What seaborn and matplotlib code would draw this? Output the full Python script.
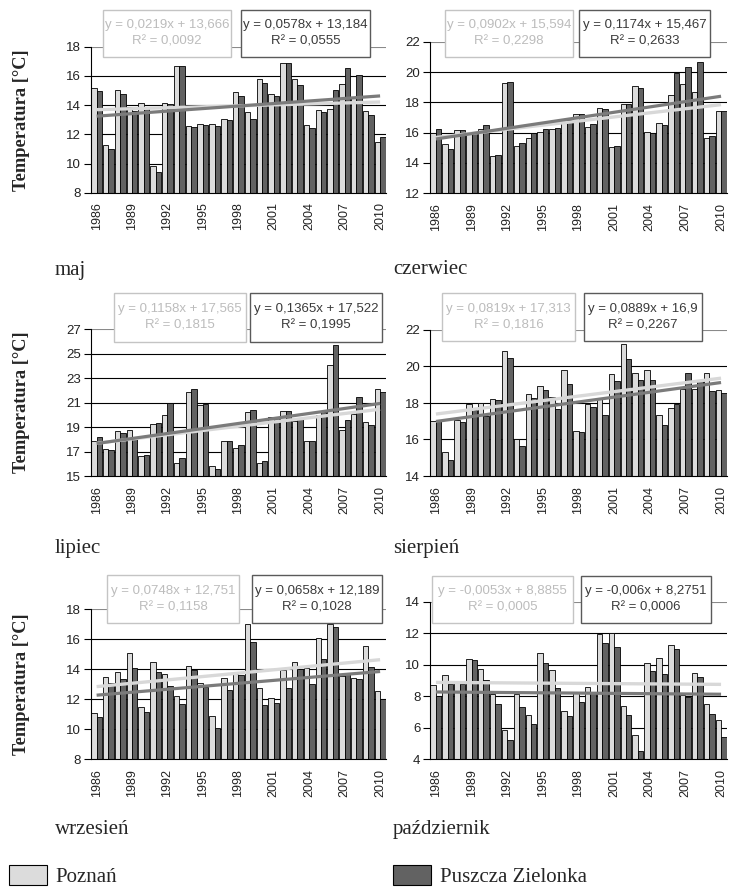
import numpy as np
import pandas as pd
import matplotlib
matplotlib.use('Agg')
import matplotlib.pyplot as plt
import seaborn as sns
from matplotlib.patches import Rectangle, Patch

# Lata pomiarowe
years = list(range(1986, 2011))

# Srednie miesieczne temperatury [°C] - Poznan (poz) i Puszcza Zielonka (pz)
maj_poz = [15.15, 11.25, 15.0, 13.9, 14.15, 9.8, 14.15, 16.7, 12.55, 12.7, 12.7, 13.05, 14.9,
           13.5, 15.8, 14.75, 16.9, 15.8, 12.65, 13.65, 13.75, 15.45, 14.55, 13.6, 11.45]
maj_pz = [14.95, 11.0, 14.75, 13.6, 13.9, 9.45, 14.1, 16.65, 12.5, 12.65, 12.6, 12.95, 14.6,
          13.05, 15.5, 14.6, 16.9, 15.35, 12.4, 13.5, 15.0, 16.55, 16.05, 13.3, 11.8]

cze_poz = [16.0, 15.25, 16.15, 16.0, 16.25, 14.45, 19.3, 15.1, 15.65, 16.05, 16.25, 16.7, 17.2,
           16.35, 17.65, 15.05, 17.9, 19.1, 16.05, 16.65, 18.5, 19.2, 18.7, 15.65, 17.4]
cze_pz = [16.25, 14.95, 16.15, 16.05, 16.5, 14.5, 19.35, 15.35, 15.95, 16.25, 16.3, 16.85, 17.2,
          16.55, 17.55, 15.15, 17.9, 18.95, 15.95, 16.5, 19.95, 20.3, 20.65, 15.75, 17.4]

lip_poz = [17.9, 17.2, 18.7, 18.75, 16.65, 19.25, 20.0, 16.1, 21.9, 20.8, 15.8, 17.9, 17.3,
           20.2, 16.1, 19.85, 20.3, 19.5, 17.85, 20.0, 24.05, 18.8, 20.05, 19.45, 22.1]
lip_pz = [18.15, 17.1, 18.55, 18.05, 16.75, 19.35, 21.0, 16.5, 22.1, 20.9, 15.6, 17.85, 17.5,
          20.4, 16.2, 19.85, 20.3, 19.65, 17.9, 20.25, 25.7, 19.55, 21.5, 19.15, 21.9]

sie_poz = [17.0, 15.3, 17.05, 17.95, 18.0, 18.2, 20.85, 16.05, 18.5, 18.95, 18.35, 19.8, 16.45,
           17.95, 18.2, 19.6, 21.25, 19.65, 19.8, 17.35, 17.75, 18.75, 18.75, 19.65, 18.7]
sie_pz = [17.0, 14.85, 16.95, 17.6, 17.3, 18.15, 20.45, 15.65, 18.3, 18.7, 17.65, 19.05, 16.4,
          17.8, 17.35, 19.2, 20.4, 19.25, 19.25, 16.8, 17.95, 19.65, 19.25, 18.65, 18.55]

wrz_poz = [11.1, 13.5, 13.78, 15.07, 11.44, 14.44, 13.67, 12.2, 14.18, 13.09, 10.87, 13.42, 13.67,
           17.0, 12.76, 12.09, 13.93, 14.49, 14.04, 16.04, 17.0, 13.53, 13.42, 15.56, 12.53]
wrz_pz = [10.78, 13.07, 13.33, 14.07, 11.11, 13.78, 12.84, 11.67, 13.91, 12.78, 10.07, 12.6, 13.6,
          15.82, 11.6, 11.76, 12.76, 14.0, 12.98, 14.64, 16.82, 13.76, 13.31, 14.16, 11.98]

paz_poz = [8.7, 9.33, 9.0, 10.35, 9.71, 8.12, 5.83, 8.12, 6.78, 10.77, 9.67, 7.06, 8.29,
           8.56, 11.96, 12.0, 7.4, 5.51, 10.11, 10.43, 11.24, 8.08, 9.5, 7.48, 6.48]
paz_pz = [8.0, 8.78, 8.8, 10.28, 9.01, 7.48, 5.19, 7.33, 6.23, 10.14, 8.54, 6.72, 7.61,
          8.29, 11.41, 11.16, 6.78, 4.49, 9.6, 9.41, 10.99, 7.97, 9.24, 6.85, 5.42]

months = ['maj', 'czerwiec', 'lipiec', 'sierpień', 'wrzesień', 'październik']
series_poz = [maj_poz, cze_poz, lip_poz, sie_poz, wrz_poz, paz_poz]
series_pz = [maj_pz, cze_pz, lip_pz, sie_pz, wrz_pz, paz_pz]

# zakres osi Y: (min, max, krok)
y_ranges = [(8, 18, 2), (12, 22, 2), (15, 27, 2), (14, 22, 2), (8, 18, 2), (4, 14, 2)]

# rownania trendu (wspolczynniki z wykresu)
trend_poz = [(0.0219, 13.666), (0.0902, 15.594), (0.1158, 17.565),
             (0.0819, 17.313), (0.0748, 12.751), (-0.0053, 8.8855)]
trend_pz = [(0.0578, 13.184), (0.1174, 15.467), (0.1365, 17.522),
            (0.0889, 16.9), (0.0658, 12.189), (-0.006, 8.2751)]
eq_poz = ['y = 0,0219x + 13,666\nR² = 0,0092', 'y = 0,0902x + 15,594\nR² = 0,2298',
          'y = 0,1158x + 17,565\nR² = 0,1815', 'y = 0,0819x + 17,313\nR² = 0,1816',
          'y = 0,0748x + 12,751\nR² = 0,1158', 'y = -0,0053x + 8,8855\nR² = 0,0005']
eq_pz = ['y = 0,0578x + 13,184\nR² = 0,0555', 'y = 0,1174x + 15,467\nR² = 0,2633',
         'y = 0,1365x + 17,522\nR² = 0,1995', 'y = 0,0889x + 16,9\nR² = 0,2267',
         'y = 0,0658x + 12,189\nR² = 0,1028', 'y = -0,006x + 8,2751\nR² = 0,0006']

# Ustawienia wygladu
sns.set_style('white')
plt.rcParams['font.family'] = ['Liberation Sans', 'DejaVu Sans']

W, H = 750, 888
C_LIGHT = '#dcdcdc'
C_DARK = '#626262'
LINE_LIGHT = '#d8d8d8'
LINE_DARK = '#7b7b7b'

# polozenie obszarow wykresow w pikselach: x0, x1, y0 (gora), y1 (dol)
axes_px = [(90.7, 386, 46.7, 192.7), (430, 727, 41.7, 193.3),
           (90.7, 386, 329.3, 476), (430, 727, 330, 476),
           (90.7, 386, 609, 759), (430, 727, 602, 759)]
# ramki z rownaniami: x0, x1, y0, y1
box_poz = [(103, 231, 10, 57), (445, 573, 10, 57), (114, 246, 293, 342),
           (442, 575, 293, 341), (107, 239, 575, 623), (432, 573, 576, 623)]
box_pz = [(241, 370, 10, 57), (579, 710, 10, 57), (250, 382, 293, 342),
          (584, 702, 293, 341), (252, 382, 575, 623), (581, 711, 576, 623)]
label_px = [(55, 270), (393, 270), (55, 549), (393, 549), (55, 829), (393, 829)]


def fx(x):
    return x / W


def fy(y):
    return 1 - y / H


fig = plt.figure(figsize=(W / 100, H / 100), dpi=100)

for i in range(6):
    x0, x1, y0, y1 = axes_px[i]
    ax = fig.add_axes([fx(x0), fy(y1), (x1 - x0) / W, (y1 - y0) / H])

    d = pd.DataFrame({
        'rok': [str(y) for y in years] * 2,
        'stacja': ['Poznań'] * len(years) + ['Puszcza Zielonka'] * len(years),
        'temp': series_poz[i] + series_pz[i],
    })
    sns.barplot(data=d, x='rok', y='temp', hue='stacja', palette=[C_LIGHT, C_DARK],
                width=0.92, edgecolor='black', linewidth=0.6, saturation=1,
                errorbar=None, legend=False, ax=ax)

    # linie trendu
    xs = np.arange(len(years))
    a, b = trend_poz[i]
    ax.plot(xs, a * (xs + 1) + b, color=LINE_LIGHT, lw=2.4, zorder=4, solid_capstyle='butt')
    a, b = trend_pz[i]
    ax.plot(xs, a * (xs + 1) + b, color=LINE_DARK, lw=2.3, zorder=4, solid_capstyle='butt')

    lo, hi, st = y_ranges[i]
    ax.set_ylim(lo, hi)
    ax.set_xlim(-0.5, len(years) - 0.5)
    ax.set_yticks(range(lo, hi + 1, st))
    ax.set_xticks(range(0, len(years), 3))
    ax.set_xticklabels([str(y) for y in years[::3]], rotation=90)
    ax.set_xticks(np.arange(-0.5, len(years), 1), minor=True)
    ax.tick_params(axis='x', which='major', length=0, pad=7, labelsize=9, labelcolor='#222222')
    ax.tick_params(axis='x', which='minor', length=4, width=0.8, direction='out', color='black')
    ax.tick_params(axis='y', length=5, width=0.8, pad=2, labelsize=9.5, labelcolor='#222222',
                   color='black', left=True)
    ax.set_xlabel('')
    ax.set_ylabel('')

    ax.set_axisbelow(True)
    ax.yaxis.grid(True, color='black', lw=0.8)
    ax.get_ygridlines()[-1].set_color('#8a8a8a')
    for s in ['top', 'right']:
        ax.spines[s].set_visible(False)
    for s in ['left', 'bottom']:
        ax.spines[s].set_color('black')
        ax.spines[s].set_linewidth(0.8)

    if i % 2 == 0:
        ax.set_ylabel('Temperatura [°C]', family='Liberation Serif', fontweight='bold',
                      fontsize=13.2)
        ax.yaxis.set_label_coords((30 - x0) / (x1 - x0), 0.5)

    # ramki z rownaniami trendu
    for bx, txt, ec, tc in [(box_poz[i], eq_poz[i], '#c4c4c4', '#bcbcbc'),
                            (box_pz[i], eq_pz[i], '#5a5a5a', '#3a3a3a')]:
        bx0, bx1, by0, by1 = bx
        fig.add_artist(Rectangle((fx(bx0), fy(by1)), (bx1 - bx0) / W, (by1 - by0) / H,
                                 transform=fig.transFigure, facecolor='white',
                                 edgecolor=ec, lw=1.0, zorder=5))
        fig.text(fx((bx0 + bx1) / 2), fy((by0 + by1) / 2), txt, ha='center', va='center',
                 multialignment='center', fontsize=9.5, color=tc, linespacing=1.45, zorder=6)

    lx, ly = label_px[i]
    fig.text(fx(lx), fy(ly), months[i], family='Liberation Serif', fontsize=15, va='center')

# legenda
for name, col, x in [('Poznań', C_LIGHT, 9), ('Puszcza Zielonka', C_DARK, 393)]:
    h = Patch(facecolor=col, edgecolor='black', lw=0.8, label=name)
    fig.legend(handles=[h], loc='center left', bbox_to_anchor=(fx(x), fy(876)),
               frameon=False, borderpad=0, borderaxespad=0, handlelength=1.8,
               handleheight=1.15, handletextpad=0.45,
               prop={'family': 'Liberation Serif', 'size': 15})

fig.savefig('out.png', dpi=100)
